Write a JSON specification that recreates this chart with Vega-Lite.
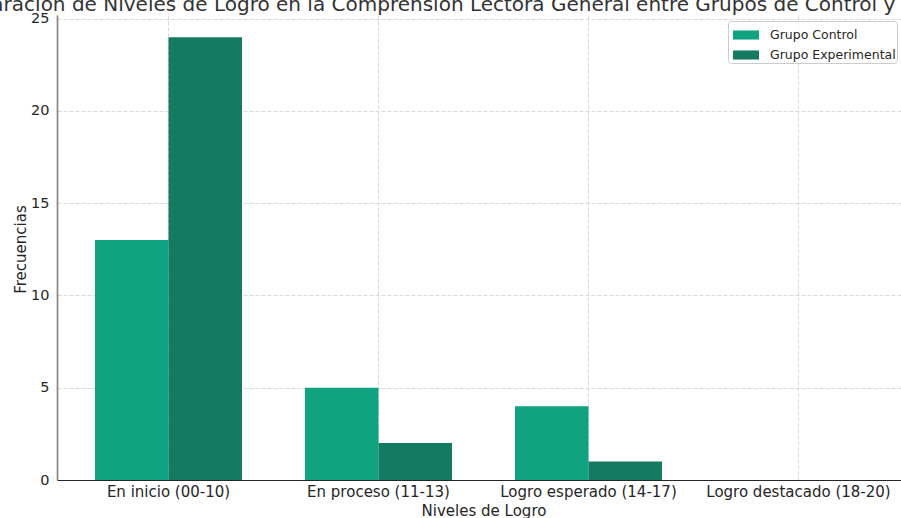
{
  "$schema": "https://vega.github.io/schema/vega-lite/v6.json",
  "width": 844,
  "height": 465,
  "autosize": {"type": "none"},
  "padding": {"left": 57, "top": 15, "right": 0, "bottom": 38},
  "background": "white",
  "title": {
    "text": "Comparación de Niveles de Logro en la Comprensión Lectora General entre Grupos de Control y Experimental",
    "anchor": "middle",
    "frame": "group",
    "fontSize": 20,
    "font": "DejaVu Sans",
    "fontWeight": "normal",
    "color": "#333333",
    "dx": 5,
    "offset": -20,
    "baseline": "alphabetic",
    "limit": 2000
  },
  "data": {
    "values": [
      {"nivel": "En inicio (00-10)", "grupo": "Grupo Control", "frecuencia": 13},
      {"nivel": "En inicio (00-10)", "grupo": "Grupo Experimental", "frecuencia": 24},
      {"nivel": "En proceso (11-13)", "grupo": "Grupo Control", "frecuencia": 5},
      {"nivel": "En proceso (11-13)", "grupo": "Grupo Experimental", "frecuencia": 2},
      {"nivel": "Logro esperado (14-17)", "grupo": "Grupo Control", "frecuencia": 4},
      {"nivel": "Logro esperado (14-17)", "grupo": "Grupo Experimental", "frecuencia": 1},
      {"nivel": "Logro destacado (18-20)", "grupo": "Grupo Control", "frecuencia": 0},
      {"nivel": "Logro destacado (18-20)", "grupo": "Grupo Experimental", "frecuencia": 0}
    ]
  },
  "mark": {"type": "bar"},
  "encoding": {
    "x": {
      "field": "nivel",
      "type": "nominal",
      "sort": ["En inicio (00-10)", "En proceso (11-13)", "Logro esperado (14-17)", "Logro destacado (18-20)"],
      "scale": {"range": [0, 853], "paddingInner": 0.3, "paddingOuter": 0.181},
      "axis": {
        "title": "Niveles de Logro",
        "labelAngle": 0,
        "labelFont": "DejaVu Sans",
        "labelFontSize": 15,
        "labelColor": "#262626",
        "labelPadding": 4,
        "labelLimit": 0,
        "ticks": false,
        "domainColor": "#262626",
        "domainWidth": 1.2,
        "grid": true,
        "bandPosition": 0.5,
        "gridDash": [4, 2],
        "gridColor": "#cfcfcf",
        "gridWidth": 0.8,
        "titleFont": "DejaVu Sans",
        "titleFontSize": 15,
        "titleFontWeight": "normal",
        "titleColor": "#262626",
        "titlePadding": 4
      }
    },
    "xOffset": {"field": "grupo", "type": "nominal", "sort": ["Grupo Control", "Grupo Experimental"]},
    "y": {
      "field": "frecuencia",
      "type": "quantitative",
      "scale": {"domain": [0, 25.2], "nice": false, "zero": true},
      "axis": {
        "title": "Frecuencias",
        "values": [0, 5, 10, 15, 20, 25],
        "labelFont": "DejaVu Sans",
        "labelFontSize": 14.5,
        "labelColor": "#262626",
        "labelPadding": 8,
        "ticks": false,
        "domainColor": "#808080",
        "domainWidth": 1.6,
        "grid": true,
        "gridDash": [4, 2],
        "gridColor": "#cfcfcf",
        "gridWidth": 0.8,
        "titleFont": "DejaVu Sans",
        "titleFontSize": 15,
        "titleFontWeight": "normal",
        "titleColor": "#262626",
        "titleX": -37,
        "titleY": 234,
        "titleAngle": -90,
        "titleAlign": "center",
        "titleBaseline": "middle"
      }
    },
    "color": {
      "field": "grupo",
      "type": "nominal",
      "scale": {"domain": ["Grupo Control", "Grupo Experimental"], "range": ["#10a37f", "#157a62"]},
      "legend": {
        "title": null,
        "orient": "none",
        "legendX": 671,
        "legendY": 6,
        "symbolType": "M-1,-0.35L1,-0.35L1,0.35L-1,0.35Z",
        "symbolSize": 676,
        "symbolStrokeWidth": 0,
        "symbolOffset": 4,
        "labelFont": "DejaVu Sans",
        "labelFontSize": 12.5,
        "labelColor": "#262626",
        "labelOffset": 11,
        "labelLimit": 0,
        "fillColor": "rgba(255,255,255,0.8)",
        "strokeColor": "#cccccc",
        "cornerRadius": 3,
        "padding": 1,
        "rowPadding": 0
      }
    }
  },
  "config": {"view": {"stroke": null}}
}
